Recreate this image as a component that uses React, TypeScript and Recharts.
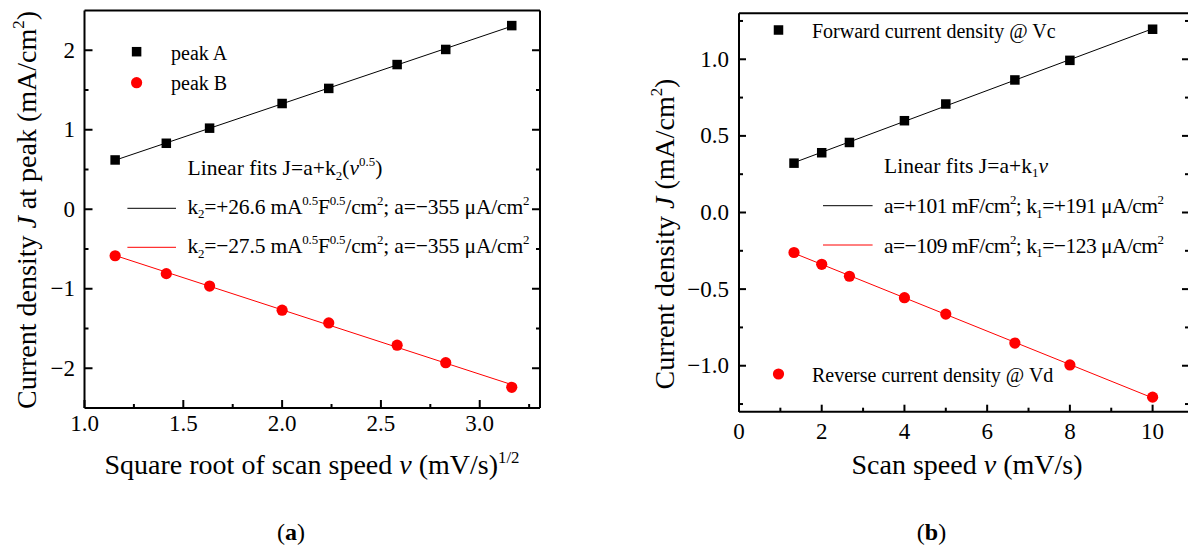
import React from 'react';
import { ScatterChart, Scatter, XAxis, YAxis, Legend, Customized } from 'recharts';

const FONT = '"Liberation Serif", "Times New Roman", Times, serif';
const RED = '#ff0000';

// ---------- Panel (a) ----------
const sqrtSpeed = [1.155, 1.414, 1.633, 2.0, 2.236, 2.582, 2.828, 3.162];
const peakA = [0.62, 0.83, 1.02, 1.33, 1.52, 1.82, 2.01, 2.31];
const peakB = [-0.585, -0.81, -0.966, -1.27, -1.43, -1.71, -1.93, -2.24];
const aXTicks = [1.0, 1.5, 2.0, 2.5, 3.0];
const aXMinor = [1.25, 1.75, 2.25, 2.75, 3.25];
const aYTicks = [-2, -1, 0, 1, 2];
const aYMinor = [-1.5, -0.5, 0.5, 1.5];
const aXDomain = [1.0, 3.305];
const aYDomain = [-2.5, 2.5];

// ---------- Panel (b) ----------
const scanSpeed = [1.33, 2, 2.67, 4, 5, 6.67, 8, 10];
const forward = [0.322, 0.39, 0.457, 0.599, 0.708, 0.865, 0.993, 1.196];
const reverse = [-0.261, -0.338, -0.416, -0.556, -0.663, -0.852, -0.995, -1.205];
const bXTicks = [0, 2, 4, 6, 8, 10];
const bXMinor = [1, 3, 5, 7, 9];
const bYTicks = [-1.0, -0.5, 0.0, 0.5, 1.0];
const bYMinor = [-1.25, -0.75, -0.25, 0.25, 0.75, 1.25];
const bXDomain = [0, 10.88];
const bYDomain = [-1.3, 1.3];

const rowsA = sqrtSpeed.map((x, i) => ({ x, y: peakA[i] }));
const rowsB = sqrtSpeed.map((x, i) => ({ x, y: peakB[i] }));
const rowsF = scanSpeed.map((x, i) => ({ x, y: forward[i] }));
const rowsR = scanSpeed.map((x, i) => ({ x, y: reverse[i] }));

const minus = (s: string) => s.replace('-', '\u2212');
const fmt1 = (v: number) => minus(v.toFixed(1));
const fmt0 = (v: number) => minus(v.toFixed(0));

type Seg = { t: string; sup?: boolean; sub?: boolean; it?: boolean; b?: boolean };

function Rich(props: { x: number; y: number; segs: Seg[]; size: number; anchor?: string; transform?: string; len?: number }) {
  const { x, y, segs, size, anchor = 'start', transform, len } = props;
  let cur = 0;
  const extra: any = len ? { textLength: len, lengthAdjust: 'spacing' } : {};
  return (
    <text x={x} y={y} fontSize={size} fontFamily={FONT} textAnchor={anchor as any} transform={transform} fill="#000" {...extra}>
      {segs.map((s, i) => {
        const target = s.sup ? -size * 0.4 : s.sub ? size * 0.22 : 0;
        const dy = target - cur;
        cur = target;
        return (
          <tspan
            key={i}
            dy={dy}
            fontSize={s.sup || s.sub ? size * 0.6 : size}
            fontStyle={s.it ? 'italic' : undefined}
            fontWeight={s.b ? 'bold' : undefined}
          >
            {s.t}
          </tspan>
        );
      })}
    </text>
  );
}

type TickCfg = {
  orient: 'bottom' | 'top' | 'left' | 'right';
  majors: number[];
  len: number;
  minorLen: number;
  fmt?: (v: number) => string;
  off?: number;
  base?: number;
  size?: number;
};

const isIn = (arr: number[], v: number) => arr.some((m) => Math.abs(m - v) < 1e-9);

function renderTick(p: any, c: TickCfg) {
  const { x, y, payload } = p;
  const v = payload.value as number;
  const major = isIn(c.majors, v);
  const L = major ? c.len : c.minorLen;
  let x2 = x;
  let y2 = y;
  if (c.orient === 'bottom') y2 = y - L;
  if (c.orient === 'top') y2 = y + L;
  if (c.orient === 'left') x2 = x + L;
  if (c.orient === 'right') x2 = x - L;
  let label = null;
  if (major && c.fmt) {
    const size = c.size || 23;
    if (c.orient === 'bottom') {
      label = (
        <text x={x} y={y + (c.base || 23)} textAnchor="middle" fontSize={size} fontFamily={FONT} fill="#000">
          {c.fmt(v)}
        </text>
      );
    } else if (c.orient === 'left') {
      label = (
        <text x={x - (c.off || 10)} y={y + (c.base || 7.5)} textAnchor="end" fontSize={size} fontFamily={FONT} fill="#000">
          {c.fmt(v)}
        </text>
      );
    }
  }
  return (
    <g>
      <line x1={x} y1={y} x2={x2} y2={y2} stroke="#000" strokeWidth={2} />
      {label}
    </g>
  );
}

const Square = (p: any) => <rect x={p.cx - 4.75} y={p.cy - 4.75} width={9.5} height={9.5} fill="#000" />;
const Dot = (p: any) => <circle cx={p.cx} cy={p.cy} r={5.6} fill={RED} />;

const axisLine = { stroke: '#000', strokeWidth: 2 };
const FIT = 21.5;

function LegendA() {
  return (
    <svg width={560} height={546} style={{ display: 'block' }}>
      <rect x={136.6 - 4.75} y={51.7 - 4.75} width={9.5} height={9.5} fill="#000" />
      <Rich x={171} y={60} size={20} segs={[{ t: 'peak A' }]} />
      <circle cx={136.6} cy={82.7} r={5.6} fill={RED} />
      <Rich x={171} y={90.3} size={20} segs={[{ t: 'peak B' }]} />
      <Rich
        x={187.5}
        y={175}
        size={FIT}
        len={195}
        segs={[{ t: 'Linear fits J=a+k' }, { t: '2', sub: true }, { t: '(' }, { t: 'v', it: true }, { t: '0.5', sup: true }, { t: ')' }]}
      />
      <line x1={127.4} y1={208.3} x2={176} y2={208.3} stroke="#000" strokeWidth={1} />
      <Rich
        x={187.5}
        y={213.6}
        size={FIT}
        len={342}
        segs={[
          { t: 'k' },
          { t: '2', sub: true },
          { t: '=+26.6 mA' },
          { t: '0.5', sup: true },
          { t: 'F' },
          { t: '0.5', sup: true },
          { t: '/cm' },
          { t: '2', sup: true },
          { t: '; a=\u2212355 \u03bcA/cm' },
          { t: '2', sup: true },
        ]}
      />
      <line x1={127.4} y1={247.3} x2={176} y2={247.3} stroke={RED} strokeWidth={1} />
      <Rich
        x={187.5}
        y={253}
        size={FIT}
        len={342}
        segs={[
          { t: 'k' },
          { t: '2', sub: true },
          { t: '=\u221227.5 mA' },
          { t: '0.5', sup: true },
          { t: 'F' },
          { t: '0.5', sup: true },
          { t: '/cm' },
          { t: '2', sup: true },
          { t: '; a=\u2212355 \u03bcA/cm' },
          { t: '2', sup: true },
        ]}
      />
    </svg>
  );
}

function LegendB() {
  return (
    <svg width={600} height={546} style={{ display: 'block' }}>
      <rect x={178.5 - 4.75} y={30 - 4.75} width={9.5} height={9.5} fill="#000" />
      <Rich x={212} y={38} size={20} segs={[{ t: 'Forward current density @ Vc' }]} />
      <circle cx={178.5} cy={374} r={5.6} fill={RED} />
      <Rich x={212} y={381.5} size={20} segs={[{ t: 'Reverse current density @ Vd' }]} />
      <Rich x={284} y={172.5} size={FIT} len={164} segs={[{ t: 'Linear fits J=a+k' }, { t: '1', sub: true }, { t: 'v', it: true }]} />
      <line x1={223} y1={205.7} x2={272.6} y2={205.7} stroke="#000" strokeWidth={1} />
      <Rich
        x={284}
        y={213}
        size={FIT}
        len={280}
        segs={[{ t: 'a=+101 mF/cm' }, { t: '2', sup: true }, { t: '; k' }, { t: '1', sub: true }, { t: '=+191 \u03bcA/cm' }, { t: '2', sup: true }]}
      />
      <line x1={223} y1={245} x2={272.6} y2={245} stroke={RED} strokeWidth={1} />
      <Rich
        x={284}
        y={252.5}
        size={FIT}
        len={280}
        segs={[{ t: 'a=\u2212109 mF/cm' }, { t: '2', sup: true }, { t: '; k' }, { t: '1', sub: true }, { t: '=\u2212123 \u03bcA/cm' }, { t: '2', sup: true }]}
      />
    </svg>
  );
}

function TitlesA() {
  return (
    <g>
      <Rich
        x={312}
        y={474}
        size={28}
        anchor="middle"
        segs={[{ t: 'Square root of scan speed ' }, { t: 'v', it: true }, { t: ' (mV/s)' }, { t: '1/2', sup: true }]}
      />
      <Rich
        x={35.5}
        y={210}
        size={28}
        anchor="middle"
        transform="rotate(-90 35.5 210)"
        segs={[{ t: 'Current density ' }, { t: 'J', it: true }, { t: ' at peak (mA/cm' }, { t: '2', sup: true }, { t: ')' }]}
      />
      <Rich x={291} y={540} size={24} anchor="middle" segs={[{ t: '(' }, { t: 'a', b: true }, { t: ')' }]} />
    </g>
  );
}

function TitlesB() {
  return (
    <g>
      <Rich x={367} y={474} size={28} anchor="middle" segs={[{ t: 'Scan speed ' }, { t: 'v', it: true }, { t: ' (mV/s)' }]} />
      <Rich
        x={73.5}
        y={234}
        size={28}
        anchor="middle"
        transform="rotate(-90 73.5 234)"
        segs={[{ t: 'Current density ' }, { t: 'J', it: true }, { t: ' (mA/cm' }, { t: '2', sup: true }, { t: ')' }]}
      />
      <Rich x={331.5} y={540} size={24} anchor="middle" segs={[{ t: '(' }, { t: 'b', b: true }, { t: ')' }]} />
    </g>
  );
}

export default function App() {
  const aXAll = [...aXTicks, ...aXMinor].sort((p, q) => p - q);
  const aYAll = [...aYTicks, ...aYMinor].sort((p, q) => p - q);
  const bXAll = [...bXTicks, ...bXMinor].sort((p, q) => p - q);
  const bYAll = [...bYTicks, ...bYMinor].sort((p, q) => p - q);

  return (
    <div style={{ position: 'absolute', left: 0, top: 0, width: 1188, height: 546, overflow: 'hidden', background: '#fff' }}>
      <div style={{ position: 'absolute', left: 0, top: 0 }}>
        <ScatterChart width={560} height={546} margin={{ top: 0, right: 0, bottom: 0, left: 0 }}>
          <XAxis
            dataKey="x"
            type="number"
            domain={aXDomain}
            allowDataOverflow
            ticks={aXAll}
            interval={0}
            height={138}
            tickSize={0}
            tickMargin={0}
            tickLine={false}
            axisLine={axisLine}
            tick={(p: any) => renderTick(p, { orient: 'bottom', majors: aXTicks, len: 8, minorLen: 4, fmt: fmt1, base: 23 })}
          />
          <XAxis
            xAxisId="top"
            orientation="top"
            type="number"
            domain={aXDomain}
            allowDataOverflow
            ticks={aXAll}
            interval={0}
            height={10.5}
            tickSize={0}
            tickMargin={0}
            tickLine={false}
            axisLine={axisLine}
            tick={(p: any) => renderTick(p, { orient: 'top', majors: aXTicks, len: 8, minorLen: 4 })}
          />
          <YAxis
            dataKey="y"
            type="number"
            domain={aYDomain}
            allowDataOverflow
            ticks={aYAll}
            interval={0}
            width={84.5}
            tickSize={0}
            tickMargin={0}
            tickLine={false}
            axisLine={axisLine}
            tick={(p: any) => renderTick(p, { orient: 'left', majors: aYTicks, len: 8, minorLen: 4, fmt: fmt0, off: 9.5, base: 7.5 })}
          />
          <YAxis
            yAxisId="right"
            orientation="right"
            type="number"
            domain={aYDomain}
            allowDataOverflow
            ticks={aYAll}
            interval={0}
            width={20}
            tickSize={0}
            tickMargin={0}
            tickLine={false}
            axisLine={axisLine}
            tick={(p: any) => renderTick(p, { orient: 'right', majors: aYTicks, len: 8, minorLen: 4 })}
          />
          <Scatter name="peak A" data={rowsA} shape={Square} line={{ stroke: '#000', strokeWidth: 1 }} lineType="fitting" isAnimationActive={false} />
          <Scatter name="peak B" data={rowsB} shape={Dot} line={{ stroke: RED, strokeWidth: 1 }} lineType="fitting" isAnimationActive={false} />
          <Legend
            layout="horizontal"
            verticalAlign="middle"
            align="center"
            content={() => <LegendA />}
            wrapperStyle={{ position: 'absolute', left: 0, top: 0, width: 560, height: 546, pointerEvents: 'none' }}
          />
          <Customized component={<TitlesA />} />
        </ScatterChart>
      </div>
      <div style={{ position: 'absolute', left: 600, top: 0 }}>
        <ScatterChart width={600} height={546} margin={{ top: 0, right: 0, bottom: 0, left: 0 }}>
          <XAxis
            dataKey="x"
            type="number"
            domain={bXDomain}
            allowDataOverflow
            ticks={bXAll}
            interval={0}
            height={134.3}
            tickSize={0}
            tickMargin={0}
            tickLine={false}
            axisLine={axisLine}
            tick={(p: any) => renderTick(p, { orient: 'bottom', majors: bXTicks, len: 7, minorLen: 4, fmt: fmt0, base: 27.5 })}
          />
          <XAxis
            xAxisId="top"
            orientation="top"
            type="number"
            domain={bXDomain}
            allowDataOverflow
            ticks={bXAll}
            interval={0}
            height={13.3}
            tickSize={0}
            tickMargin={0}
            tickLine={false}
            axisLine={axisLine}
            tick={(p: any) => renderTick(p, { orient: 'top', majors: bXTicks, len: 7, minorLen: 4 })}
          />
          <YAxis
            dataKey="y"
            type="number"
            domain={bYDomain}
            allowDataOverflow
            ticks={bYAll}
            interval={0}
            width={139}
            tickSize={0}
            tickMargin={0}
            tickLine={false}
            axisLine={axisLine}
            tick={(p: any) => renderTick(p, { orient: 'left', majors: bYTicks, len: 7, minorLen: 4, fmt: fmt1, off: 10, base: 7.5 })}
          />
          <YAxis
            yAxisId="right"
            orientation="right"
            type="number"
            domain={bYDomain}
            allowDataOverflow
            ticks={bYAll}
            interval={0}
            width={11}
            tickSize={0}
            tickMargin={0}
            tickLine={false}
            axisLine={axisLine}
            tick={(p: any) => renderTick(p, { orient: 'right', majors: bYTicks, len: 7, minorLen: 4 })}
          />
          <Scatter name="Forward current density @ Vc" data={rowsF} shape={Square} line={{ stroke: '#000', strokeWidth: 1 }} lineType="fitting" isAnimationActive={false} />
          <Scatter name="Reverse current density @ Vd" data={rowsR} shape={Dot} line={{ stroke: RED, strokeWidth: 1 }} lineType="fitting" isAnimationActive={false} />
          <Legend
            layout="horizontal"
            verticalAlign="middle"
            align="center"
            content={() => <LegendB />}
            wrapperStyle={{ position: 'absolute', left: 0, top: 0, width: 600, height: 546, pointerEvents: 'none' }}
          />
          <Customized component={<TitlesB />} />
        </ScatterChart>
      </div>
    </div>
  );
}
